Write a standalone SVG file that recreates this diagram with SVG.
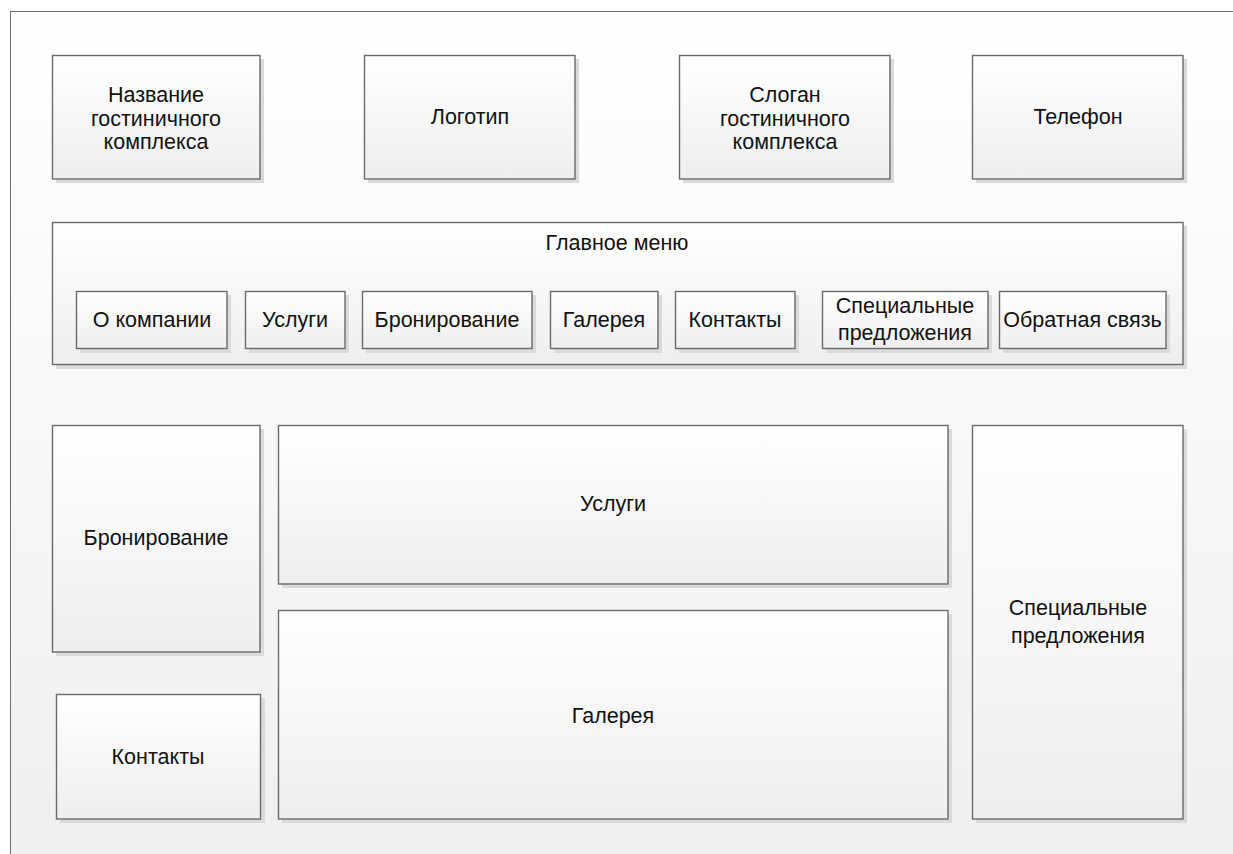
<svg xmlns="http://www.w3.org/2000/svg" width="1233" height="854" viewBox="0 0 1233 854">
<defs>
<linearGradient id="bg" x1="0" y1="0" x2="0" y2="1">
<stop offset="0" stop-color="#ffffff"/>
<stop offset="1" stop-color="#efefef"/>
</linearGradient>
<linearGradient id="box" x1="0" y1="0" x2="0" y2="1">
<stop offset="0" stop-color="#ffffff"/>
<stop offset="1" stop-color="#eeeeee"/>
</linearGradient>
<style>
.sh{fill:#dadada;}
.bx{fill:url(#box);stroke:#6a6a6a;stroke-width:1.4;}
.t{font-family:"Liberation Sans",Arial,sans-serif;font-size:21.5px;fill:#111111;text-anchor:middle;}
</style>
</defs>
<rect x="0" y="0" width="1233" height="854" fill="#ffffff"/>
<rect x="10.5" y="11.5" width="1240" height="860" fill="url(#bg)" stroke="#6f6f6f" stroke-width="1"/>

<g id="name">
<rect class="sh" x="56" y="59" width="208" height="124"/>
<rect class="bx" x="52.5" y="55.5" width="207.5" height="123.5"/>
<text class="t" x="156" y="102">Название</text>
<text class="t" x="156" y="125.5">гостиничного</text>
<text class="t" x="156" y="149">комплекса</text>
</g>
<g id="logo">
<rect class="sh" x="368" y="59" width="211" height="124"/>
<rect class="bx" x="364.5" y="55.5" width="210.5" height="123.5"/>
<text class="t" x="470" y="124">Логотип</text>
</g>
<g id="slogan">
<rect class="sh" x="683" y="59" width="211" height="124"/>
<rect class="bx" x="679.5" y="55.5" width="210.5" height="123.5"/>
<text class="t" x="785" y="102">Слоган</text>
<text class="t" x="785" y="125.5">гостиничного</text>
<text class="t" x="785" y="149">комплекса</text>
</g>
<g id="phone">
<rect class="sh" x="976" y="59" width="211" height="124"/>
<rect class="bx" x="972.5" y="55.5" width="210.5" height="123.5"/>
<text class="t" x="1078" y="124">Телефон</text>
</g>

<g id="menu">
<rect class="sh" x="56" y="226" width="1131" height="143"/>
<rect class="bx" x="52.5" y="222.5" width="1130.5" height="142"/>
<text class="t" x="617" y="250">Главное меню</text>
</g>
<g id="m-about">
<rect class="sh" x="80" y="295" width="151" height="58"/>
<rect class="bx" x="76.5" y="291.5" width="150.5" height="57"/>
<text class="t" x="152" y="327">О компании</text>
</g>
<g id="m-services">
<rect class="sh" x="249" y="295" width="100" height="58"/>
<rect class="bx" x="245.5" y="291.5" width="99.5" height="57"/>
<text class="t" x="295" y="327">Услуги</text>
</g>
<g id="m-booking">
<rect class="sh" x="366" y="295" width="170" height="58"/>
<rect class="bx" x="362.5" y="291.5" width="169.5" height="57"/>
<text class="t" x="447" y="327">Бронирование</text>
</g>
<g id="m-gallery">
<rect class="sh" x="554" y="295" width="108" height="58"/>
<rect class="bx" x="550.5" y="291.5" width="107.5" height="57"/>
<text class="t" x="604" y="327">Галерея</text>
</g>
<g id="m-contacts">
<rect class="sh" x="679" y="295" width="120" height="58"/>
<rect class="bx" x="675.5" y="291.5" width="119.5" height="57"/>
<text class="t" x="735" y="327">Контакты</text>
</g>
<g id="m-special">
<rect class="sh" x="826" y="295" width="166" height="58"/>
<rect class="bx" x="822.5" y="291.5" width="165.5" height="57"/>
<text class="t" x="905" y="313">Специальные</text>
<text class="t" x="905" y="340">предложения</text>
</g>
<g id="m-feedback">
<rect class="sh" x="1003" y="295" width="167" height="58"/>
<rect class="bx" x="999.5" y="291.5" width="166.5" height="57"/>
<text class="t" x="1082.5" y="327">Обратная связь</text>
</g>

<g id="booking">
<rect class="sh" x="56" y="429" width="208" height="227"/>
<rect class="bx" x="52.5" y="425.5" width="207.5" height="226.5"/>
<text class="t" x="156" y="545">Бронирование</text>
</g>
<g id="services">
<rect class="sh" x="282" y="429" width="670" height="159"/>
<rect class="bx" x="278.5" y="425.5" width="669.5" height="158.5"/>
<text class="t" x="613" y="511">Услуги</text>
</g>
<g id="gallery">
<rect class="sh" x="282" y="614" width="670" height="209"/>
<rect class="bx" x="278.5" y="610.5" width="669.5" height="208.5"/>
<text class="t" x="613" y="723">Галерея</text>
</g>
<g id="special">
<rect class="sh" x="976" y="429" width="211" height="394"/>
<rect class="bx" x="972.5" y="425.5" width="210.5" height="393.5"/>
<text class="t" x="1078" y="615">Специальные</text>
<text class="t" x="1078" y="643">предложения</text>
</g>
<g id="contacts">
<rect class="sh" x="60" y="698" width="205" height="125"/>
<rect class="bx" x="56.5" y="694.5" width="204" height="124.5"/>
<text class="t" x="158" y="764">Контакты</text>
</g>
<g id="connectors"></g>
</svg>
